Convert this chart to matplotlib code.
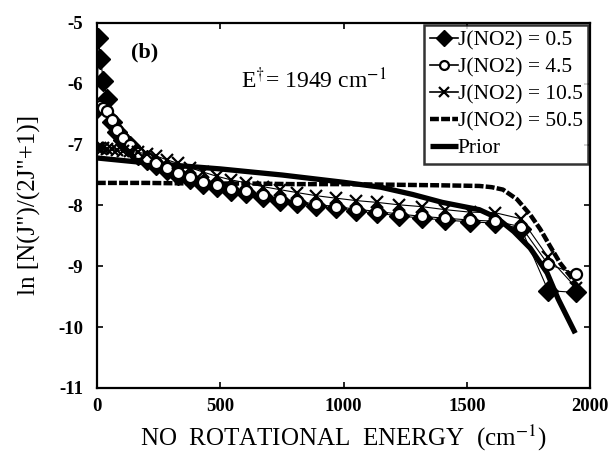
import matplotlib
matplotlib.use("Agg")
import matplotlib.pyplot as plt

plt.rcParams['font.family'] = ['Liberation Serif', 'DejaVu Serif']
plt.rcParams['mathtext.fontset'] = 'stix'
plt.rcParams['axes.unicode_minus'] = False

# NO rotational level energies (cm-1), J'' = 0.5 ... 33.5
energy = [1.3, 6.3, 14.7, 26.5, 41.6, 60.1, 81.9, 107.1, 135.7, 167.6,
          202.9, 241.5, 283.5, 328.9, 377.6, 429.7, 485.1, 543.9, 606.1, 671.6,
          740.5, 812.7, 888.3, 967.3, 1049.6, 1135.3, 1224.3, 1316.7, 1412.5, 1511.6,
          1614.1, 1719.9, 1829.1, 1941.7]

# ln[N(J'')/(2J''+1)] for each parent J(NO2)
j05 = [-6.40, -5.25, -5.60, -5.95, -6.25, -6.63, -6.79, -6.92, -7.03, -7.17,
       -7.25, -7.33, -7.41, -7.50, -7.56, -7.65, -7.69, -7.76, -7.80, -7.86,
       -7.92, -7.96, -8.01, -8.05, -8.09, -8.13, -8.17, -8.21, -8.24, -8.27,
       -8.29, -8.38, -9.40, -9.43]
j45 = [-6.35, -6.33, -6.36, -6.40, -6.45, -6.60, -6.76, -6.89, -7.00, -7.14,
       -7.22, -7.30, -7.38, -7.47, -7.53, -7.62, -7.66, -7.73, -7.77, -7.83,
       -7.89, -7.93, -7.98, -8.02, -8.06, -8.10, -8.14, -8.18, -8.21, -8.24,
       -8.26, -8.35, -8.97, -9.12]
j105 = [-7.05, -7.05, -7.06, -7.06, -7.07, -7.08, -7.09, -7.10, -7.11, -7.13,
        -7.15, -7.19, -7.25, -7.31, -7.38, -7.45, -7.52, -7.58, -7.63, -7.69,
        -7.74, -7.79, -7.84, -7.88, -7.92, -7.95, -7.99, -8.02, -8.07, -8.11,
        -8.12, -8.22, -8.85, -9.35]

# J(NO2) = 50.5 curve
e505 = [0, 200, 400, 600, 800, 1000, 1200, 1400, 1550, 1600, 1646, 1703,
        1756, 1797, 1837, 1878, 1919, 1942]
j505 = [-7.63, -7.63, -7.64, -7.64, -7.65, -7.65, -7.66, -7.67, -7.68, -7.70,
        -7.74, -7.90, -8.15, -8.39, -8.67, -8.95, -9.16, -9.30]

# prior distribution
e_prior = [0, 250, 500, 750, 1000, 1150, 1280, 1400, 1550, 1620, 1690, 1756,
           1825, 1870, 1939]
prior = [-7.22, -7.32, -7.40, -7.50, -7.62, -7.70, -7.82, -7.95, -8.07, -8.20,
         -8.43, -8.70, -9.11, -9.54, -10.10]

fig = plt.figure(figsize=(6.13, 4.57), dpi=100)
ax = fig.add_axes([0.158, 0.151, 0.805, 0.799])

ax.plot(e505, j505, color='black', lw=3.2, ls=(0, (2, 0.5)), label='J(NO2) = 50.5')
ax.plot(e_prior, prior, color='black', lw=3.8, solid_capstyle='butt', label='Prior')
ax.plot(energy, j05, color='black', lw=0.8, marker='D', ms=10, mfc='black',
        mec='black', label='J(NO2) = 0.5')
ax.plot(energy, j45, color='black', lw=0.8, marker='o', ms=8, mfc='white',
        mec='black', mew=1.6, label='J(NO2) = 4.5')
ax.plot(energy, j105, color='black', lw=0.8, marker='x', ms=9, mew=1.6,
        label='J(NO2) = 10.5')

ax.set_xlim(0, 2000)
ax.set_ylim(-11, -5)
ax.set_xticks([0, 500, 1000, 1500, 2000])
ax.set_yticks([-11, -10, -9, -8, -7, -6, -5])
ax.tick_params(direction='in', length=4, width=1.2, top=True, right=True,
               labelsize=13.5)
ax.tick_params(axis='x', pad=7)
ax.tick_params(axis='y', pad=10)
for lab in ax.get_xticklabels() + ax.get_yticklabels():
    lab.set_fontweight('bold')
for sp in ax.spines.values():
    sp.set_linewidth(1.6)

ax.set_xlabel('NO  ROTATIONAL  ENERGY  (cm$^{-1}$)', fontsize=18, labelpad=6)
ax.set_ylabel('ln [N(J")/(2J"+1)]', fontsize=18, labelpad=12)

ax.text(192, -5.48, '(b)', fontsize=16, fontweight='bold', ha='center', va='center')
ax.text(585, -5.94, 'E$^{\\dagger}$= 1949 cm$^{-1}$', fontsize=17, ha='left', va='center')

h, l = ax.get_legend_handles_labels()
order = [2, 3, 4, 0, 1]
leg = ax.legend([h[i] for i in order], [l[i] for i in order], loc='upper right',
                fontsize=15.5, frameon=True, fancybox=False, handlelength=1.3,
                handletextpad=0.0, borderaxespad=0.1, borderpad=0.25,
                labelspacing=0.32, markerscale=0.8, numpoints=1)
leg.get_frame().set_edgecolor('black')
leg.get_frame().set_linewidth(1.8)
for ln in leg.get_lines():
    ln.set_linewidth(max(ln.get_linewidth(), 1.2))

fig.savefig('out.png', dpi=100)
